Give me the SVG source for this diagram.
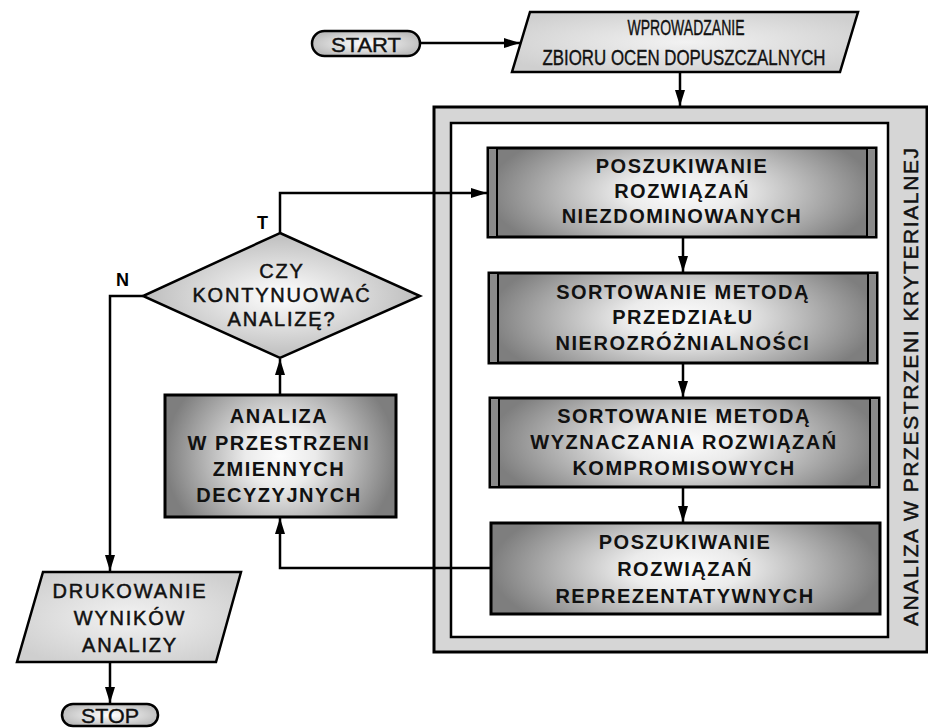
<svg xmlns="http://www.w3.org/2000/svg" width="928" height="728" viewBox="0 0 928 728">
  <style>
    .ln { fill: none; stroke: #000; stroke-width: 2.5; }
    .box { stroke: #000; stroke-width: 3; fill: url(#boxGrad); }
    .stripe { stroke: #000; stroke-width: 2; fill: #8a8a8a; }
    .io { stroke: #000; stroke-width: 2.5; fill: url(#ioGrad); }
    .term { stroke: #000; stroke-width: 2.5; fill: url(#termGrad); }
    .bt { font-family: "Liberation Sans", Arial, sans-serif; font-weight: bold; font-size: 20px; letter-spacing: 1.5px; text-anchor: middle; fill: #111; }
    .dt { font-family: "Liberation Sans", Arial, sans-serif; font-size: 20px; letter-spacing: 1.8px; text-anchor: middle; fill: #111; stroke: #111; stroke-width: 0.5; }
    .nt { font-family: "Liberation Sans", Arial, sans-serif; font-size: 22px; text-anchor: middle; fill: #111; stroke: #111; stroke-width: 0.4; }
    .lab { font-family: "Liberation Sans", Arial, sans-serif; font-weight: bold; font-size: 18px; fill: #000; }
  </style>
  <defs>
    <radialGradient id="boxGrad" cx="0.5" cy="0.5" r="0.5" gradientTransform="translate(0.5 0.5) scale(1 1.7) translate(-0.5 -0.5)">
      <stop offset="0" stop-color="#fcfcfc"/>
      <stop offset="0.3" stop-color="#ebebeb"/>
      <stop offset="1" stop-color="#7e7e7e"/>
    </radialGradient>
    <radialGradient id="diaGrad" cx="50%" cy="50%" r="50%">
      <stop offset="0" stop-color="#ffffff"/>
      <stop offset="1" stop-color="#bdbdbd"/>
    </radialGradient>
    <radialGradient id="ioGrad" cx="50%" cy="50%" r="60%">
      <stop offset="0" stop-color="#f2f2f2"/>
      <stop offset="1" stop-color="#cfcfcf"/>
    </radialGradient>
    <radialGradient id="termGrad" cx="50%" cy="50%" r="55%">
      <stop offset="0" stop-color="#ffffff"/>
      <stop offset="1" stop-color="#bcbcbc"/>
    </radialGradient>
    <marker id="arr" viewBox="0 0 16 10" refX="16" refY="5" markerWidth="16" markerHeight="10" markerUnits="userSpaceOnUse" orient="auto">
      <path d="M0,0 L16,5 L0,10 Z" fill="#000"/>
    </marker>
  </defs>

  <rect width="928" height="728" fill="#fff"/>

  <!-- criterion-space frame -->
  <g id="frame">
    <rect x="434" y="107" width="493" height="545" fill="#d6d6d6" stroke="#000" stroke-width="3"/>
    <rect x="451" y="123" width="437" height="514" fill="#fff" stroke="#000" stroke-width="2.5"/>
    <text class="dt" transform="translate(918 387) rotate(-90)" textLength="478" lengthAdjust="spacing" style="letter-spacing:0;font-size:21px">ANALIZA W PRZESTRZENI KRYTERIALNEJ</text>
  </g>

  <!-- start terminal -->
  <g id="start">
    <rect class="term" x="312" y="31" width="108" height="25" rx="12.5"/>
    <text class="nt" x="366" y="51.5" style="font-size:20px" textLength="70" lengthAdjust="spacingAndGlyphs">START</text>
  </g>

  <!-- input data -->
  <g id="input">
    <polygon class="io" points="530,12 858,12 840,72 512,72"/>
    <text class="nt" x="686" y="35" textLength="117" lengthAdjust="spacingAndGlyphs">WPROWADZANIE</text>
    <text class="nt" x="684" y="65" textLength="283" lengthAdjust="spacingAndGlyphs">ZBIORU OCEN DOPUSZCZALNYCH</text>
  </g>

  <!-- non-dominated solutions -->
  <g id="box1">
    <rect class="box" x="488" y="148" width="388" height="89"/>
    <rect class="stripe" x="488" y="148" width="9" height="89"/>
    <rect class="stripe" x="867" y="148" width="9" height="89"/>
    <text class="bt" x="682" y="173">POSZUKIWANIE</text>
    <text class="bt" x="682" y="198">ROZWIĄZAŃ</text>
    <text class="bt" x="682" y="223">NIEZDOMINOWANYCH</text>
  </g>

  <!-- indifference interval sorting -->
  <g id="box2">
    <rect class="box" x="489" y="273" width="388" height="90"/>
    <rect class="stripe" x="489" y="273" width="9" height="90"/>
    <rect class="stripe" x="868" y="273" width="9" height="90"/>
    <text class="bt" x="683" y="299">SORTOWANIE METODĄ</text>
    <text class="bt" x="683" y="324">PRZEDZIAŁU</text>
    <text class="bt" x="683" y="350">NIEROZRÓŻNIALNOŚCI</text>
  </g>

  <!-- compromise solutions sorting -->
  <g id="box3">
    <rect class="box" x="490" y="398" width="389" height="89"/>
    <rect class="stripe" x="490" y="398" width="9" height="89"/>
    <rect class="stripe" x="870" y="398" width="9" height="89"/>
    <text class="bt" x="684" y="423">SORTOWANIE METODĄ</text>
    <text class="bt" x="684" y="449">WYZNACZANIA ROZWIĄZAŃ</text>
    <text class="bt" x="684" y="475">KOMPROMISOWYCH</text>
  </g>

  <!-- representative solutions -->
  <g id="box4">
    <rect class="box" x="491" y="523" width="389" height="91"/>
    <text class="bt" x="685" y="549">POSZUKIWANIE</text>
    <text class="bt" x="685" y="576">ROZWIĄZAŃ</text>
    <text class="bt" x="685" y="603">REPREZENTATYWNYCH</text>
  </g>

  <!-- decision-space analysis -->
  <g id="analysis">
    <rect class="box" x="165" y="395" width="231" height="122"/>
    <text class="bt" x="279" y="423">ANALIZA</text>
    <text class="bt" x="279" y="450">W PRZESTRZENI</text>
    <text class="bt" x="279" y="476">ZMIENNYCH</text>
    <text class="bt" x="279" y="502">DECYZYJNYCH</text>
  </g>

  <!-- continue decision -->
  <g id="decision">
    <polygon points="280,233 420,296 280,358 143,296" fill="url(#diaGrad)" stroke="#000" stroke-width="2.5"/>
    <text class="dt" x="282" y="278">CZY</text>
    <text class="dt" x="282" y="302">KONTYNUOWAĆ</text>
    <text class="dt" x="282" y="326">ANALIZĘ?</text>
  </g>

  <!-- results output -->
  <g id="output">
    <polygon class="io" points="43,572 241,572 216,662 17,662"/>
    <text class="dt" x="130" y="598">DRUKOWANIE</text>
    <text class="dt" x="130" y="625">WYNIKÓW</text>
    <text class="dt" x="130" y="652">ANALIZY</text>
  </g>

  <!-- stop terminal -->
  <g id="stop">
    <rect class="term" x="62" y="704" width="96" height="22" rx="11"/>
    <text class="nt" x="110" y="722.5" style="font-size:20px" textLength="58" lengthAdjust="spacingAndGlyphs">STOP</text>
  </g>

  <!-- connectors -->
  <g id="connectors">
    <path class="ln" d="M420,43 H520" marker-end="url(#arr)"/>
    <path class="ln" d="M680,72 V106" marker-end="url(#arr)"/>
    <path class="ln" d="M280,233 V193 H487" marker-end="url(#arr)"/>
    <path class="ln" d="M683,237 V272" marker-end="url(#arr)"/>
    <path class="ln" d="M683,363 V397" marker-end="url(#arr)"/>
    <path class="ln" d="M683,487 V522" marker-end="url(#arr)"/>
    <path class="ln" d="M491,568 H280 V518" marker-end="url(#arr)"/>
    <path class="ln" d="M280,395 V359" marker-end="url(#arr)"/>
    <path class="ln" d="M143,296 H110 V571" marker-end="url(#arr)"/>
    <path class="ln" d="M110,662 V703" marker-end="url(#arr)"/>
    <text class="lab" x="257" y="229">T</text>
    <text class="lab" x="116" y="286">N</text>
  </g>
</svg>
